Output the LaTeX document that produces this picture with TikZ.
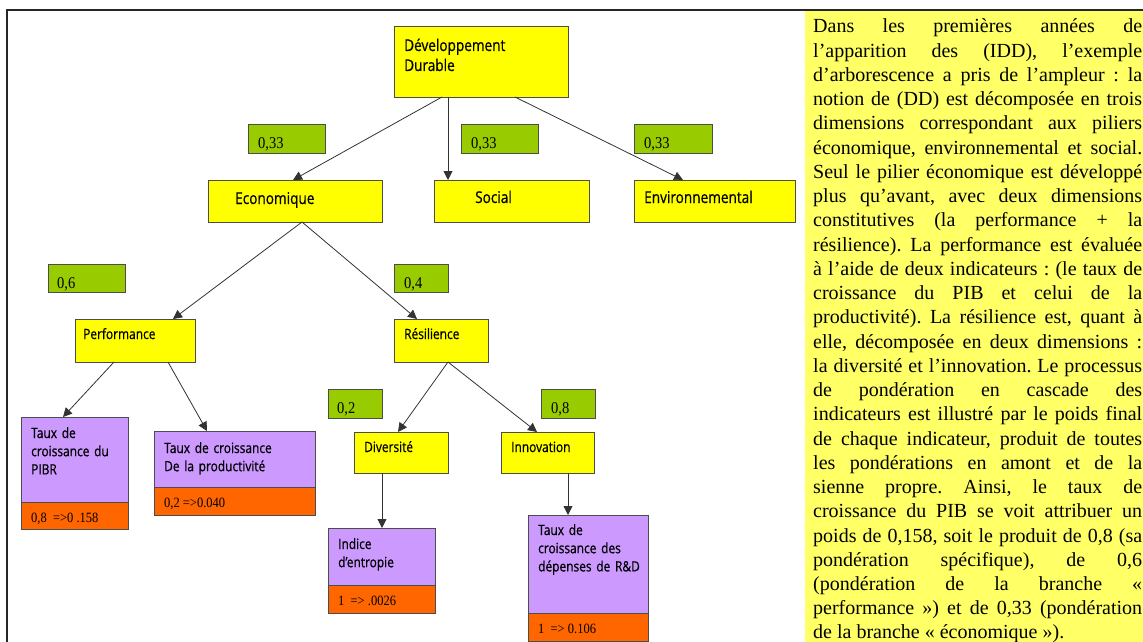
\documentclass[tikz,border=0pt]{standalone}
\usepackage{fontspec}
\setmainfont{Liberation Serif}
\newfontfamily\diagfont[FakeStretch=0.84,FakeBold=0.6]{Open Sans}
\newfontfamily\numfont[FakeStretch=0.88]{Liberation Serif}
\usetikzlibrary{arrows.meta}
\definecolor{dyel}{HTML}{FFFF00}
\definecolor{dgrn}{HTML}{99CC00}
\definecolor{dpur}{HTML}{CC99FF}
\definecolor{dora}{HTML}{FF6600}
\definecolor{panelyel}{HTML}{FFFF66}
\tikzset{
  basebox/.style={draw=black!70, line width=0.9pt, inner sep=0pt, outer sep=0pt, anchor=north west},
  ybox/.style={basebox, fill=dyel},
  gbox/.style={basebox, fill=dgrn},
  pbox/.style={basebox, fill=dpur},
  obox/.style={basebox, fill=dora},
  toptxt/.style={anchor=base west, inner sep=0pt, text width=165pt, align=left, font=\diagfont\fontsize{16.2}{20}\selectfont},
  subtxt/.style={anchor=base west, inner sep=0pt, text width=150pt, align=left, font=\diagfont\fontsize{14.2}{18.2}\selectfont},
  numtxt/.style={anchor=base west, inner sep=0pt, font=\numfont\fontsize{16.5}{18}\selectfont},
  valtxt/.style={anchor=base west, inner sep=0pt, font=\numfont\fontsize{14.2}{15}\selectfont},
  arr/.style={draw=black!80, line width=0.8pt, -{Triangle[width=9pt,length=9pt]}},
}
\begin{document}
\begin{tikzpicture}[x=1pt,y=-1pt]
\useasboundingbox (0,0) rectangle (1143,642);
% right text panel
\fill[panelyel] (805,11) rectangle (1143,642);
% frame
\draw[line width=1.8pt, black!85] (7,642) -- (7,10) -- (1143,10);
\node[anchor=base west, inner sep=0pt, text width=329pt, align=justify,
      font=\fontsize{20}{24.24}\selectfont] (para) at (813,33) {%
\frenchspacing\tolerance=10000\hbadness=10000\emergencystretch=0pt
Dans les premières années de\linebreak
l’apparition des (IDD), l’exemple\linebreak
d’arborescence a pris de l’ampleur : la\linebreak
notion de (DD) est décomposée en trois\linebreak
dimensions correspondant aux piliers\linebreak
économique, environnemental et social.\linebreak
Seul le pilier économique est développé\linebreak
plus qu’avant, avec deux dimensions\linebreak
constitutives (la performance + la\linebreak
résilience). La performance est évaluée\linebreak
à l’aide de deux indicateurs : (le taux de\linebreak
croissance du PIB et celui de la\linebreak
productivité). La résilience est, quant à\linebreak
elle, décomposée en deux dimensions :\linebreak
la diversité et l’innovation. Le processus\linebreak
de pondération en cascade des\linebreak
indicateurs est illustré par le poids final\linebreak
de chaque indicateur, produit de toutes\linebreak
les pondérations en amont et de la\linebreak
sienne propre. Ainsi, le taux de\linebreak
croissance du PIB se voit attribuer un\linebreak
poids de 0,158, soit le produit de 0,8 (sa\linebreak
pondération spécifique), de 0,6\linebreak
(pondération de la branche «\linebreak
performance ») et de 0,33 (pondération\linebreak
de la branche « économique »).};

% yellow boxes
\node[ybox, minimum width=174pt, minimum height=71pt] (dd) at (394,26) {};
\node[ybox, minimum width=174pt, minimum height=42pt] (eco) at (208,180) {};
\node[ybox, minimum width=155pt, minimum height=42pt] (soc) at (434,180) {};
\node[ybox, minimum width=161pt, minimum height=42pt] (env) at (634,180) {};
\node[ybox, minimum width=120pt, minimum height=43pt] (perf) at (75,319) {};
\node[ybox, minimum width=94pt, minimum height=43pt] (res) at (394,319) {};
\node[ybox, minimum width=94pt, minimum height=41pt] (div) at (354,432) {};
\node[ybox, minimum width=93pt, minimum height=41pt] (inn) at (501,432) {};
% indicator boxes
\node[pbox, minimum width=107pt, minimum height=85pt] (pibr) at (21,417) {};
\node[obox, minimum width=107pt, minimum height=27pt] (pibrv) at (21,502) {};
\node[pbox, minimum width=161pt, minimum height=56pt] (prod) at (154,431) {};
\node[obox, minimum width=161pt, minimum height=28pt] (prodv) at (154,487) {};
\node[pbox, minimum width=107pt, minimum height=57pt] (ent) at (328,528) {};
\node[obox, minimum width=107pt, minimum height=28pt] (entv) at (328,585) {};
\node[pbox, minimum width=120pt, minimum height=98pt] (rd) at (528,515) {};
\node[obox, minimum width=120pt, minimum height=28pt] (rdv) at (528,613) {};
% weight boxes
\node[gbox, minimum width=77pt, minimum height=29pt] (g1) at (248,124) {};
\node[gbox, minimum width=77pt, minimum height=29pt] (g2) at (461,124) {};
\node[gbox, minimum width=78pt, minimum height=29pt] (g3) at (634,124) {};
\node[gbox, minimum width=77pt, minimum height=28pt] (g4) at (48,264) {};
\node[gbox, minimum width=54pt, minimum height=28pt] (g5) at (394,264) {};
\node[gbox, minimum width=54pt, minimum height=29pt] (g6) at (328,389) {};
\node[gbox, minimum width=54pt, minimum height=29pt] (g7) at (541,389) {};

% texts
\node[toptxt] (ddt) at (404,51) {Développement\\Durable};
\node[toptxt] (ecot) at (235,204) {Economique};
\node[toptxt] (soct) at (475,203) {Social};
\node[toptxt] (envt) at (644,203) {Environnemental};
\node[subtxt] (perft) at (83,339) {Performance};
\node[subtxt] (rest) at (404,339) {Résilience};
\node[subtxt] (divt) at (364,452) {Diversité};
\node[subtxt] (innt) at (511,452) {Innovation};
\node[subtxt] (pibrt) at (31,438) {Taux de\\croissance du\\PIBR};
\node[subtxt] (prodt) at (164,453) {Taux de croissance\\De la productivité};
\node[subtxt] (entt) at (338,549) {Indice\\d’entropie};
\node[subtxt] (rdt) at (538,535) {Taux de\\croissance des\\dépenses de R\&D};
\node[valtxt] (pibrvt) at (31,522) {0,8 \ =>0 .158};
\node[valtxt] (prodvt) at (164,507) {0,2 =>0.040};
\node[valtxt] (entvt) at (338,605) {1 \ => .0026};
\node[valtxt] (rdvt) at (538,633) {1 \ => 0.106};
\node[numtxt] (g1t) at (258,148) {0,33};
\node[numtxt] (g2t) at (471,148) {0,33};
\node[numtxt] (g3t) at (644,148) {0,33};
\node[numtxt] (g4t) at (57,288) {0,6};
\node[numtxt] (g5t) at (404,288) {0,4};
\node[numtxt] (g6t) at (337,413) {0,2};
\node[numtxt] (g7t) at (551,413) {0,8};

% connectors
\draw[arr] ([xshift=48pt]dd.south west) -- ([xshift=85pt]eco.north west);
\draw[arr] ([xshift=54pt]dd.south west) -- ([xshift=14pt]soc.north west);
\draw[arr] ([xshift=121pt]dd.south west) -- ([xshift=49pt]env.north west);
\draw[arr] ([xshift=94pt]eco.south west) -- ([xshift=98pt]perf.north west);
\draw[arr] ([xshift=94pt]eco.south west) -- ([xshift=23pt]res.north west);
\draw[arr] ([xshift=39pt]perf.south west) -- ([xshift=42pt]pibr.north west);
\draw[arr] ([xshift=93pt]perf.south west) -- ([xshift=53pt]prod.north west);
\draw[arr] ([xshift=54pt]res.south west) -- ([xshift=44pt]div.north west);
\draw[arr] ([xshift=54pt]res.south west) -- ([xshift=36pt]inn.north west);
\draw[arr] ([xshift=28pt]div.south west) -- ([xshift=54pt]ent.north west);
\draw[arr] ([xshift=67pt]inn.south west) -- ([xshift=40pt]rd.north west);
\end{tikzpicture}
\end{document}
